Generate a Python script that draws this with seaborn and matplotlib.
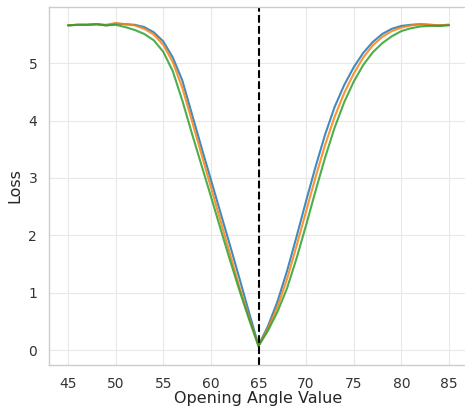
import numpy as np
import pandas as pd
import matplotlib
matplotlib.use("Agg")
import matplotlib.pyplot as plt
import seaborn as sns

# Opening angle sweep (degrees)
angles = list(range(45, 86))

# Loss curves for three runs, one value per angle
loss_a = [5.66, 5.67, 5.67, 5.68, 5.66, 5.69, 5.68, 5.67, 5.63, 5.54,
          5.38, 5.10, 4.70, 4.12, 3.54, 2.97, 2.40, 1.83, 1.25, 0.66,
          0.08,
          0.42, 0.85, 1.38, 1.98, 2.60, 3.20, 3.76, 4.24, 4.62, 4.93,
          5.18, 5.37, 5.51, 5.60, 5.65, 5.67, 5.68, 5.67, 5.66, 5.67]
loss_b = [5.66, 5.67, 5.67, 5.68, 5.67, 5.70, 5.68, 5.66, 5.60, 5.50,
          5.32, 5.02, 4.57, 4.00, 3.42, 2.84, 2.26, 1.68, 1.10, 0.57,
          0.07,
          0.38, 0.76, 1.24, 1.82, 2.42, 3.02, 3.58, 4.07, 4.48, 4.82,
          5.10, 5.31, 5.46, 5.56, 5.62, 5.66, 5.68, 5.67, 5.66, 5.67]
loss_c = [5.66, 5.67, 5.67, 5.68, 5.66, 5.67, 5.63, 5.58, 5.51, 5.40,
          5.20, 4.86, 4.35, 3.78, 3.23, 2.68, 2.12, 1.57, 1.04, 0.54,
          0.07,
          0.34, 0.67, 1.08, 1.60, 2.18, 2.78, 3.36, 3.88, 4.32, 4.68,
          4.97, 5.19, 5.35, 5.47, 5.56, 5.61, 5.64, 5.65, 5.65, 5.66]
series_names = ["run_a", "run_b", "run_c"]

# Reference opening angle
target_angle = 65

df = pd.DataFrame({
    "angle": angles * 3,
    "loss": loss_a + loss_b + loss_c,
    "run": np.repeat(series_names, len(angles)),
})

sns.set_theme(style="whitegrid", rc={
    "grid.color": "0.91",
    "grid.linewidth": 0.8,
    "axes.edgecolor": "0.8",
    "axes.linewidth": 1.0,
})
plt.rcParams["font.family"] = ["DejaVu Sans"]

fig = plt.figure(figsize=(4.65, 4.09), dpi=100)
ax = fig.add_axes([49 / 465, 1 - 365 / 409, 419 / 465, (365 - 7) / 409])

palette = sns.color_palette("tab10", 3)
sns.lineplot(data=df, x="angle", y="loss", hue="run", hue_order=series_names,
             palette=palette, linewidth=1.5, alpha=0.85, legend=False, ax=ax)
ax.axvline(target_angle, color="black", linestyle="--", linewidth=1.5)

ax.set_xlim(43, 87)
ax.set_ylim(-0.26, 5.98)
ax.set_xticks(range(45, 86, 5))
ax.set_yticks(range(0, 6))
ax.tick_params(labelsize=10, pad=2.5, colors="0.2")
ax.set_xlabel("Opening Angle Value", fontsize=11.5, labelpad=0, color="0.15")
ax.set_ylabel("Loss", fontsize=11.5, labelpad=4, color="0.15")

fig.savefig("out.png", dpi=100)
